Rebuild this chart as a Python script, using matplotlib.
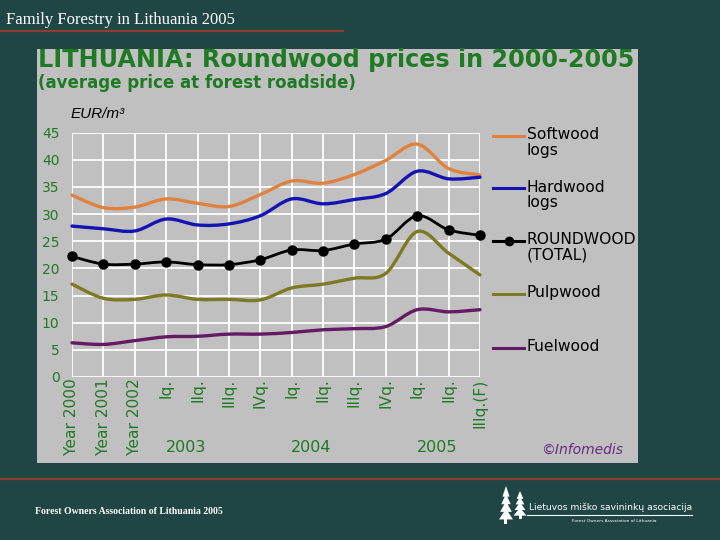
import matplotlib
matplotlib.use("Agg")
import matplotlib.pyplot as plt
import matplotlib.transforms as mtransforms
from matplotlib.path import Path
from matplotlib.patches import PathPatch, Rectangle, Polygon
from matplotlib.lines import Line2D

# ---------------- data ----------------
periods = ["Year 2000", "Year 2001", "Year 2002",
           "Iq.", "IIq.", "IIIq.", "IVq.",
           "Iq.", "IIq.", "IIIq.", "IVq.",
           "Iq.", "IIq.", "IIIq.(F)"]
year_groups = ["2003", "2004", "2005"]
softwood = [33.5, 31.2, 31.3, 32.8, 32.0, 31.4, 33.6, 36.1, 35.7, 37.3, 39.9, 42.9, 38.4, 37.2]
hardwood = [27.8, 27.3, 26.9, 29.1, 28.0, 28.2, 29.7, 32.8, 31.9, 32.7, 33.8, 37.9, 36.5, 36.8]
roundwood = [22.2, 20.8, 20.8, 21.2, 20.7, 20.7, 21.6, 23.4, 23.3, 24.5, 25.4, 29.7, 27.1, 26.1]
pulpwood = [17.1, 14.5, 14.3, 15.1, 14.3, 14.3, 14.2, 16.4, 17.1, 18.2, 19.1, 26.8, 22.8, 18.8]
fuelwood = [6.3, 6.0, 6.7, 7.4, 7.5, 7.9, 7.9, 8.2, 8.7, 8.9, 9.3, 12.4, 12.0, 12.4]
series_names = ["Softwood\nlogs", "Hardwood\nlogs", "ROUNDWOOD\n(TOTAL)", "Pulpwood", "Fuelwood"]
series_colors = ["#e0823e", "#1414b4", "#000000", "#7d7a22", "#641a64"]

BG = "#1f4545"
PANEL = "#c0c0c0"
GREEN = "#1f7a24"
RULE = "#8b3f2e"

W, H = 720.0, 540.0
def fx(x): return x / W
def fy(y): return 1.0 - y / H

fig = plt.figure(figsize=(7.2, 5.4), dpi=100, facecolor=BG)

# header
fig.text(fx(6), fy(20), "Family Forestry in Lithuania 2005", family="Liberation Serif",
         fontsize=12, color="white", va="center", ha="left")
fig.add_artist(Line2D([fx(0), fx(343)], [fy(31), fy(31)], transform=fig.transFigure,
                      color=RULE, lw=1.6))
fig.add_artist(Line2D([fx(0), fx(720)], [fy(478.5), fy(478.5)], transform=fig.transFigure,
                      color=RULE, lw=1.6))

# panel
fig.patches.append(Rectangle((fx(37), fy(463)), (638 - 37) / W, (463 - 49) / H,
                             transform=fig.transFigure, facecolor=PANEL, edgecolor="none",
                             zorder=-1))

fig.text(fx(38), fy(60.5), "LITHUANIA: Roundwood prices in 2000-2005", fontsize=17.2,
         fontweight="bold", color=GREEN, va="center", ha="left")
fig.text(fx(38), fy(83.5), "(average price at forest roadside)", fontsize=12,
         fontweight="bold", color=GREEN, va="center", ha="left")
fig.text(fx(71), fy(114), "EUR/m³", family="Liberation Sans", style="italic",
         fontsize=11, color="black", va="center", ha="left")

# axes
ax = fig.add_axes([fx(72), fy(377), (480 - 72) / W, (377 - 132.7) / H])
ax.set_facecolor(PANEL)
ax.set_xlim(0, len(periods) - 1)
ax.set_ylim(0, 45)
ax.set_yticks(range(0, 46, 5))
ax.set_xticks(range(len(periods)))
ax.set_xticklabels(periods, rotation=90, fontsize=11.2, color=GREEN, va="top")
ax.tick_params(axis="y", labelsize=10, labelcolor=GREEN, length=0, pad=9)
ax.tick_params(axis="x", length=0, pad=1)
for s in ax.spines.values():
    s.set_visible(False)
ax.grid(True, color="white", lw=1.3)
ax.set_axisbelow(True)


def smooth_path(xs, ys):
    pts = list(zip(xs, ys))
    n = len(pts)
    verts = [pts[0]]
    codes = [Path.MOVETO]
    for i in range(n - 1):
        p0 = pts[i - 1] if i > 0 else pts[i]
        p1 = pts[i]
        p2 = pts[i + 1]
        p3 = pts[i + 2] if i + 2 < n else pts[i + 1]
        c1 = (p1[0] + (p2[0] - p0[0]) / 6.0, p1[1] + (p2[1] - p0[1]) / 6.0)
        c2 = (p2[0] - (p3[0] - p1[0]) / 6.0, p2[1] - (p3[1] - p1[1]) / 6.0)
        verts += [c1, c2, p2]
        codes += [Path.CURVE4, Path.CURVE4, Path.CURVE4]
    return Path(verts, codes)


xs = list(range(len(periods)))
all_series = [softwood, hardwood, roundwood, pulpwood, fuelwood]
widths = [2.4, 2.4, 2.0, 2.4, 2.4]
for vals, col, lw in zip(all_series, series_colors, widths):
    ax.add_patch(PathPatch(smooth_path(xs, vals), facecolor="none", edgecolor=col,
                           lw=lw, clip_on=False, zorder=3, capstyle="round"))
ax.plot(xs, roundwood, linestyle="none", marker="o", markersize=6.5, color="black",
        clip_on=False, zorder=4)

# year group labels
btr = mtransforms.blended_transform_factory(ax.transData, fig.transFigure)
starts = [i for i, p in enumerate(periods) if p == "Iq."]
for st, yr in zip(starts, year_groups):
    ax.text(st + 0.62, fy(447), yr, transform=btr, fontsize=11.5, color=GREEN,
            ha="center", va="center")

# legend
leg_y = [135.5, 188, 240.5, 294, 347.5]
for name, col, yy in zip(series_names, series_colors, leg_y):
    fig.add_artist(Line2D([fx(493), fx(524)], [fy(yy), fy(yy)], transform=fig.transFigure,
                          color=col, lw=2.2))
    if name.startswith("ROUND"):
        fig.add_artist(Line2D([fx(508.5)], [fy(yy)], transform=fig.transFigure,
                              color=col, marker="o", markersize=6, linestyle="none"))
    fig.text(fx(527), fy(yy - 8.5), name, fontsize=11.2, color="black", va="top", ha="left",
             linespacing=1.05)

fig.text(fx(541), fy(450), "©Infomedis", style="italic", fontsize=10, color="#6a2a80",
         va="center", ha="left")

# footer
fig.text(fx(35), fy(511), "Forest Owners Association of Lithuania 2005",
         family="Liberation Serif", fontsize=7, fontweight="bold", color="white",
         va="center", ha="left")

# logo trees
def tree(cx, top, bottom, w):
    h = bottom - top
    tiers = 4
    for k in range(tiers):
        t0 = top + k * h * 0.2
        t1 = top + (k + 1) * h * 0.2 + h * 0.08
        half = w * (0.35 + 0.65 * (k + 1) / tiers) / 2
        fig.patches.append(Polygon([(fx(cx), fy(t0)), (fx(cx - half), fy(t1)),
                                    (fx(cx + half), fy(t1))], closed=True,
                                   transform=fig.transFigure, facecolor="white",
                                   edgecolor="none"))
    fig.patches.append(Rectangle((fx(cx - 1.5), fy(bottom)), 3 / W, (h * 0.2) / H,
                                 transform=fig.transFigure, facecolor="white",
                                 edgecolor="none"))

tree(506, 486, 524, 14)
tree(520, 491, 519, 13)
fig.text(fx(529), fy(507.5), "Lietuvos miško savininkų asociacija", fontsize=6.6,
         color="white", va="center", ha="left")
fig.add_artist(Line2D([fx(527), fx(692)], [fy(515), fy(515)], transform=fig.transFigure,
                      color="white", lw=0.8))
fig.text(fx(614), fy(520.5), "Forest Owners Association of Lithuania", fontsize=3.2,
         color="white", va="center", ha="center")

fig.savefig("out.png", dpi=100, facecolor=BG)
